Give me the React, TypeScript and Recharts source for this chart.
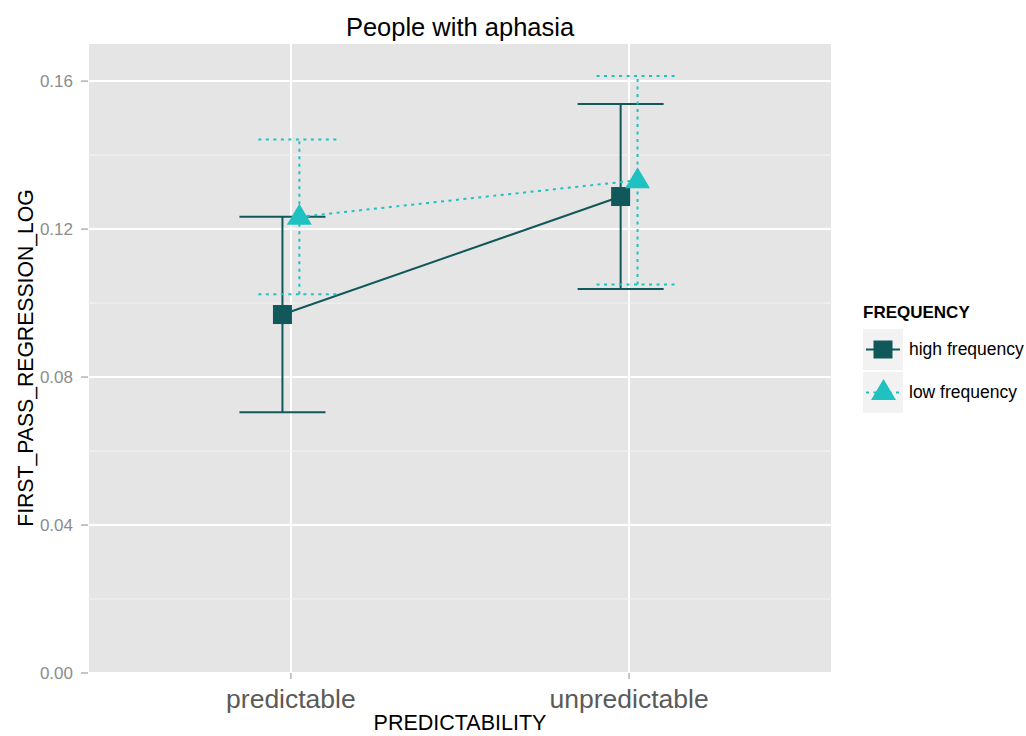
import React from 'react';
import {ComposedChart, Line, XAxis, YAxis, CartesianGrid, ErrorBar, ReferenceLine} from 'recharts';

const categories = ['predictable', 'unpredictable'];
const seriesNames = ['high frequency', 'low frequency'];
const highMean = [0.0969, 0.1288];
const highSE = [0.0264, 0.025];
const lowMean = [0.1233, 0.1332];
const lowSE = [0.0209, 0.0282];
const yTicks = [0, 0.04, 0.08, 0.12, 0.16];
const yMinor = [0.02, 0.06, 0.1, 0.14];

const HIGH = '#10585a';
const LOW = '#1fc1c1';
const FONT = '"Liberation Sans", Arial, Helvetica, sans-serif';
const DODGE = 0.025;

const highData = categories.map((c, i) => ({x: i + 1 - DODGE, y: highMean[i], err: highSE[i]}));
const lowData = categories.map((c, i) => ({x: i + 1 + DODGE, y: lowMean[i], err: lowSE[i]}));

const Square = (props: any) => {
    const {cx, cy, index} = props;
    if (cx == null || cy == null) return <g key={`sq-${index}`}/>;
    return <rect key={`sq-${index}`} x={cx - 9.5} y={cy - 9.5} width={19} height={19} fill={HIGH}/>;
};

const Triangle = (props: any) => {
    const {cx, cy, index} = props;
    if (cx == null || cy == null) return <g key={`tr-${index}`}/>;
    const pts = `${cx},${cy - 13} ${cx - 12.5},${cy + 8} ${cx + 12.5},${cy + 8}`;
    return <polygon key={`tr-${index}`} points={pts} fill={LOW}/>;
};

const YTitle = (props: any) => {
    const vb = props.viewBox || {y: 43, height: 630};
    const cy = vb.y + vb.height / 2;
    return (
        <text x={33} y={cy} transform={`rotate(-90 33 ${cy})`} textAnchor="middle"
              fontSize={21.2} fill="#000" fontFamily={FONT}>FIRST_PASS_REGRESSION_LOG</text>
    );
};

const XTitle = (props: any) => {
    const vb = props.viewBox || {x: 88, width: 744};
    return (
        <text x={vb.x + vb.width / 2} y={730} textAnchor="middle" fontSize={21.5} fill="#000"
              fontFamily={FONT}>PREDICTABILITY</text>
    );
};

const LegendBox = () => (
    <div style={{position: 'absolute', left: 863, top: 303, fontFamily: FONT}}>
        <div style={{fontWeight: 'bold', fontSize: 17, lineHeight: '20px'}}>FREQUENCY</div>
        <div style={{marginTop: 6}}>
            {seriesNames.map((name, i) => (
                <div key={name} style={{display: 'flex', alignItems: 'center', height: 41, marginTop: i ? 2 : 0}}>
                    <svg width={40} height={41} style={{display: 'block'}}>
                        <rect x={0} y={0} width={40} height={41} fill="#f2f2f2"/>
                        {i === 0 ? (
                            <g>
                                <line x1={3} x2={37} y1={20.5} y2={20.5} stroke={HIGH} strokeWidth={2}/>
                                <rect x={10.5} y={11.5} width={19} height={18} fill={HIGH}/>
                            </g>
                        ) : (
                            <g>
                                <line x1={3} x2={37} y1={20.5} y2={20.5} stroke={LOW} strokeWidth={2} strokeDasharray="3 4.5"/>
                                <polygon points="20.5,7 8,28 33,28" fill={LOW}/>
                            </g>
                        )}
                    </svg>
                    <span style={{fontSize: 17.5, marginLeft: 6, color: '#000'}}>{name}</span>
                </div>
            ))}
        </div>
    </div>
);

const App: React.FunctionComponent = () => {
    return (
        <div style={{position: 'absolute', left: 0, top: 0, width: 1026, height: 736, background: '#fff'}}>
            <div style={{
                position: 'absolute', left: 88, width: 744, top: 15, textAlign: 'center',
                fontFamily: FONT, fontSize: 25.5, lineHeight: '25px', color: '#000'
            }}>People with aphasia</div>
            <ComposedChart width={1026} height={736} margin={{top: 43, right: 194, bottom: 0, left: 0}}>
                <CartesianGrid fill="#e5e5e5" stroke="#ffffff" strokeWidth={2} horizontal vertical/>
                {yMinor.map(v => (
                    <ReferenceLine key={v} y={v} stroke="#f2f2f2" strokeWidth={1}/>
                ))}
                <XAxis type="number" dataKey="x" domain={[0.4, 2.6]} ticks={[1, 2]} allowDataOverflow
                       tickFormatter={(v: number) => categories[Math.round(v) - 1]}
                       height={63} axisLine={false} tickSize={6} tickMargin={10}
                       tickLine={{stroke: '#8c8c8c', strokeWidth: 1}}
                       tick={{fontSize: 26.5, fill: '#5a5a5a', fontFamily: FONT}}
                       label={<XTitle/>}/>
                <YAxis type="number" domain={[0, 0.1703]} ticks={yTicks} allowDataOverflow
                       tickFormatter={(v: number) => v.toFixed(2)}
                       width={88} axisLine={false} tickSize={7} tickMargin={8}
                       tickLine={{stroke: '#8c8c8c', strokeWidth: 1}}
                       tick={{fontSize: 17, fill: '#8c8c8c', fontFamily: FONT}}
                       label={<YTitle/>}/>
                <Line data={highData} dataKey="y" type="linear" stroke={HIGH} strokeWidth={2}
                      dot={Square} activeDot={false} isAnimationActive={false}>
                    <ErrorBar dataKey="err" direction="y" width={43} stroke={HIGH} strokeWidth={2}
                              isAnimationActive={false}/>
                </Line>
                <Line data={lowData} dataKey="y" type="linear" stroke={LOW} strokeWidth={2}
                      strokeDasharray="3 4.5" dot={Triangle} activeDot={false} isAnimationActive={false}>
                    <ErrorBar dataKey="err" direction="y" width={41} stroke={LOW} strokeWidth={2}
                              strokeDasharray="3 4.5" isAnimationActive={false}/>
                </Line>
            </ComposedChart>
            <LegendBox/>
        </div>
    );
};

export default App;
